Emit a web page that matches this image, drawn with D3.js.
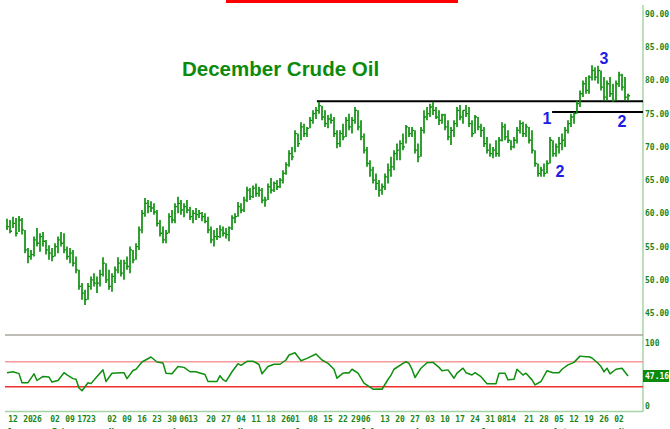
<!DOCTYPE html>
<html>
<head>
<meta charset="utf-8">
<script src="https://cdn.jsdelivr.net/npm/d3@7"></script>
<style>
  body { margin: 0; background: #fff; }
  svg { display: block; }
</style>
</head>
<body>
<svg id="chart" width="670" height="429"></svg>
<script>
// daily bars (Dec crude)
const high = [
  59.2,59.0,59.5,59.3,59.6,59.3, 57.5,54.8,54.5, 56.5,57.8,57.0,57.2,56.0,
  55.2,54.8,55.5, 56.5,57.2,57.0, 55.0,54.8,54.5,53.5, 51.5,49.5,48.5,49.5,
  50.5,51.0,50.5,51.5, 53.4, 52.5,51.5,51.0,52.0, 53.4,53.0,53.0,53.5,
  55.0,54.5,55.5,58.0, 60.5,62.3, 62.0,61.8,61.5, 60.5,59.0,58.0,57.5,
  60.0,60.5,61.5, 62.5,62.0,61.5,62.0, 61.0,60.5,60.8, 60.5,60.2,60.0,
  59.5,58.0,57.5,57.8, 58.2,58.0,57.8,58.0, 59.7,60.0, 61.7,61.5,62.5,
  64.0,63.8,64.2,64.5, 64.0,63.8, 62.5, 64.5,65.3,64.8,65.0,65.3, 66.5,67.7,
  69.5,70.0, 72.5,72.0, 73.7,73.5,73.0, 74.5,75.5, 76.0,76.8,
  76.2,75.5,74.8,75.0, 74.5,72.5, 72.5,73.5,74.5, 75.0,74.5,76.0, 75.5,74.0,
  72.0,70.0, 68.0,67.0,66.0,65.0, 64.5,66.0,67.5, 68.5,69.5,70.5, 71.0,72.0,
  73.3,73.0,73.0, 72.5,70.5, 73.0,75.5, 76.0,76.5,76.8, 76.0,75.5,75.0,
  75.0,74.0,73.0,74.0, 76.0,76.3,75.5,76.3, 76.0,74.0,74.8, 74.5,73.5,73.0,
  71.5,70.5,70.0,71.0,71.5, 73.7,73.5,72.5, 71.0,71.5,73.0, 74.0,73.8,73.5,73.0,
  72.5,69.5, 67.5,67.0,67.5,68.0, 71.5,71.0,70.5, 71.5,72.0,73.0, 74.0,75.0,75.2,
  77.0,78.5, 80.0,80.5,80.8, 82.3,82.0,82.2, 81.5,80.5,80.0, 80.5,79.5,80.0,
  81.3,81.0,80.5, 78.0
];
const low = [
  57.5,57.0,57.8,56.5,57.2,56.8, 54.0,52.5,53.0, 53.5,55.0,54.2,55.0,53.8,
  53.0,52.8,53.5, 54.0,55.0,54.0, 53.0,52.5,52.0,51.0, 48.5,47.0,46.2,47.0,
  48.5,49.0,48.0,49.0, 50.5, 49.5,48.5,48.2,49.5, 51.0,50.5,50.0,51.5,
  51.0,52.5,53.0,54.5, 57.0,59.5, 60.0,60.2,59.8, 58.0,56.5,55.5,55.5,
  57.0,58.5,58.5, 60.0,59.8,59.4,60.0, 59.0,58.5,59.0, 59.3,58.8,58.5,
  57.0,55.5,55.0,56.0, 56.3,56.5,56.2,55.8, 57.5,58.5, 59.5,60.0,60.2,
  61.7,62.0,62.3,62.5, 62.5,61.5, 61.0, 62.0,63.0,63.2,63.5,63.8, 64.5,65.8,
  67.0,68.0, 69.2,70.0, 71.0,71.5,71.5, 72.8,73.5, 74.2,75.0,
  74.0,73.0,72.8,73.5, 71.5,69.8, 70.0,71.0,71.5, 72.5,72.0,73.5, 72.5,71.0,
  69.0,67.0, 65.5,64.5,63.5,62.5, 62.8,63.5,64.5, 65.5,66.5,68.0, 68.0,69.5,
  70.5,71.5,71.5, 69.0,67.7, 68.5,72.0, 74.0,74.5,74.8, 74.2,73.3,73.5,
  72.5,71.0,70.3,71.5, 73.0,74.0,73.5,74.5, 73.0,71.5,72.0, 72.5,71.5,70.0,
  69.0,68.5,68.3,68.5,68.5, 70.8,71.0,70.6, 69.5,69.8,70.5, 72.0,71.5,71.5,70.5,
  69.0,67.0, 65.5,65.5,65.5,66.0, 67.5,68.5,68.5, 69.0,69.5,70.0, 72.0,73.0,73.5,
  75.0,76.0, 77.5,78.0,78.0, 80.0,80.0,79.5, 78.5,77.0,77.0, 77.5,76.8,77.0,
  79.0,78.5,77.0, 77.0
];
const close = [
  58.0,57.3,58.5,57.0,59.0,57.5, 54.5,53.5,53.8, 56.0,55.5,56.5,55.8,54.5,
  54.0,53.5,55.0, 56.0,55.5,54.5, 53.5,54.0,52.5,51.5, 49.0,48.0,47.0,49.0,
  50.0,49.5,49.5,50.8, 52.5, 50.0,49.0,50.5,51.5, 52.5,51.0,52.5,52.0,
  54.5,53.0,55.0,57.5, 60.0,61.5, 61.0,60.8,60.2, 58.5,57.0,56.0,57.0,
  59.5,59.0,61.0, 61.5,60.5,61.0,60.5, 59.5,60.0,59.8, 60.0,59.5,58.8,
  57.5,56.0,56.5,56.5, 57.5,57.0,56.8,57.8, 59.3,59.5, 61.0,60.5,62.0,
  63.5,62.5,63.8,63.0, 63.5,62.0, 62.0, 64.0,63.5,64.5,64.0,65.0, 66.0,67.3,
  69.0,68.5, 72.0,70.5, 73.0,72.0,72.8, 74.0,75.0, 75.5,76.2,
  74.5,73.5,74.2,74.0, 72.0,70.5, 72.0,71.5,74.0, 73.0,74.0,75.5, 73.0,71.5,
  69.5,67.5, 66.5,65.0,64.5,63.5, 64.0,65.5,66.5, 67.0,69.0,69.5, 70.5,70.0,
  73.0,72.0,72.5, 69.5,68.5, 72.5,74.5, 75.0,76.0,75.5, 74.5,74.0,74.8,
  73.0,71.5,72.5,73.5, 75.5,74.5,75.5,75.0, 73.5,72.0,74.5, 73.0,72.5,70.5,
  69.5,69.0,69.5,69.0,71.0, 73.0,71.5,71.0, 70.0,71.0,72.5, 73.5,72.0,73.0,71.0,
  69.5,67.5, 66.0,66.5,66.0,67.5, 71.0,69.0,70.0, 70.5,71.0,72.5, 73.5,74.5,75.0,
  76.5,78.0, 79.5,78.5,80.5, 81.5,80.5,81.5, 79.0,77.5,79.5, 78.0,77.0,79.5,
  80.8,79.0,77.5, 77.7
];

// RSI readings (bar index, value)
const rsiDay = [0,2,4,5,7,9,10,12,14,15,17,19,20,22,23,24,25,27,28,30,32,33,35,38,39,40,42,43,45,48,
  50,52,53,55,57,59,61,63,64,66,67,70,71,72,73,75,77,78,80,82,84,85,87,89,91,93,94,96,98,100,
  103,105,107,109,110,112,113,114,115,117,119,122,124,125,127,128,129,132,133,134,135,136,138,140,142,
  144,145,147,149,150,152,153,155,156,158,160,163,164,166,167,169,170,172,173,175,176,178,180,182,184,
  185,187,189,191,193,194,195,197,198,199,200,201,203,205,207];
const rsiVal = [52.5,54,51,36.5,36.5,50.7,40,46.5,45.5,37.5,40,52.5,49,43,42,28,23.7,36.5,35,46.5,
  57,38.5,51.7,52.5,52.5,43,56,58,69.6,77.6,69.6,68,51.7,50.7,62.3,61,54,54,52.5,49.6,
  38.5,38.5,47.7,41.3,38.5,54,66.9,64.3,70.7,71,65.6,50.7,62.3,66,66,72.8,80.8,84.5,71.7,75.4,
  82.4,72.8,67.5,58,43.7,51.7,52.5,52,58,51.7,35.7,26.1,26.5,26,41.6,48.5,58,67.5,70,67.5,
  58,44.8,59.7,68.5,69,61,55.7,57,43.7,51.7,59.7,52.5,48.8,52.5,46.1,34.7,34.7,51.7,51.7,41,
  42,58,48.8,51.7,41,33,38.4,55.7,52.5,52.5,58,65,69,79,78,78,76,67.5,62.3,54,
  59.7,50.7,58,59.7,47.16];
const rsiLast = "47.16";

// date labels on the bottom axis
const tickDay = [2,7,10,16,21,25,28,35,40,45,50,55,59,62,68,73,78,83,88,93,96,102,107,112,116.3,119.6,
  126,131,136,141,146,151,156,161,165,168,174,179,184,189,194,199,204];
const tickText = ["12","20","26","02","09","17","23","02","09","16","23","30","06","13","20","27",
  "04","11","18","26","01","08","15","22","29","06","13","20","27","03","10","17","24","31","08",
  "14","21","28","05","12","19","26","02"];
const monthDay = [0,15,34,55,77,96,118,136,158,182,204];
const monthText = ["Jan","Feb","Mar","Apr","May","Jun","Jul","Aug","Sep","Oct","Nov"];

const priceTicks = [45,50,55,60,65,70,75,80,85,90];
const rsiTicks = [0,100];
const rsiBands = [70,30];

// horizontal lines drawn on the chart: [price, start bar]
const levels = [[76.85, 103.3], [75.25, 181.7]];
// wave count labels
const waveText = ["3","1","2","2"];
const waveDay = [199, 180, 205, 184.3];
const wavePrice = [82.4, 73.4, 73.0, 65.5];

const svg = d3.select("#chart");
const green = "#0e8f0e";
const labGreen = "#1a861a";
const axisX = 643;

const n = Math.min(high.length, low.length, close.length);
const x = d3.scaleLinear().domain([0, 207]).range([7, 628]);
const y = d3.scaleLinear().domain([45, 90]).range([313, 14]);
const yr = d3.scaleLinear().domain([0, 100]).range([405.5, 343]);

// red bar at the very top
svg.append("rect").attr("x", 226).attr("y", 0).attr("width", 232).attr("height", 3).attr("fill", "#ff0000");

// frame lines
svg.append("line").attr("x1", axisX).attr("x2", axisX).attr("y1", 5).attr("y2", 412)
  .attr("stroke", "#a6d4a6").attr("stroke-width", 1.5);
svg.append("line").attr("x1", 5).attr("x2", axisX).attr("y1", 335).attr("y2", 335)
  .attr("stroke", "#aaa49c").attr("stroke-width", 1.5);
svg.append("line").attr("x1", 5).attr("x2", axisX).attr("y1", 411.5).attr("y2", 411.5)
  .attr("stroke", "#a6d4a6").attr("stroke-width", 1.5);

// title
svg.append("text").attr("x", 182).attr("y", 76)
  .style("font-family", "'Liberation Sans', Arial, sans-serif").style("font-weight", "bold")
  .style("font-size", "20.5px").attr("fill", "#0c8a0c").text("December Crude Oil");

// resistance / support lines
svg.selectAll(".level").data(levels).enter().append("line")
  .attr("x1", d => x(d[1])).attr("x2", axisX)
  .attr("y1", d => y(d[0])).attr("y2", d => y(d[0]))
  .attr("stroke", "#000").attr("stroke-width", 2);

// price bars
const bars = svg.append("g");
for (let i = 0; i < n; i++) {
  bars.append("line").attr("x1", x(i)).attr("x2", x(i))
    .attr("y1", y(high[i])).attr("y2", y(low[i]))
    .attr("stroke", green).attr("stroke-width", 1.7);
  bars.append("line").attr("x1", x(i)).attr("x2", x(i) + 2)
    .attr("y1", y(close[i])).attr("y2", y(close[i]))
    .attr("stroke", green).attr("stroke-width", 1.3);
}

// wave labels
svg.selectAll(".wave").data(waveText).enter().append("text")
  .attr("x", (d, i) => x(waveDay[i])).attr("y", (d, i) => y(wavePrice[i]))
  .attr("text-anchor", "middle")
  .style("font-family", "'Liberation Sans', Arial, sans-serif").style("font-weight", "bold")
  .style("font-size", "16px").attr("fill", "#1c1ce6").text(d => d);

// price axis labels
const monoFont = "'DejaVu Sans Mono', monospace";
svg.selectAll(".ptick").data(priceTicks).enter().append("text")
  .attr("x", 645).attr("y", d => y(d) + 3)
  .style("font-family", monoFont).style("font-weight", "bold").style("font-size", "8px")
  .attr("fill", labGreen).text(d => d3.format(".2f")(d));

// RSI panel
svg.selectAll(".band").data(rsiBands).enter().append("line")
  .attr("x1", 5).attr("x2", axisX).attr("y1", d => yr(d)).attr("y2", d => yr(d))
  .attr("stroke", (d, i) => i === 0 ? "#f59a9a" : "#f03030").attr("stroke-width", 1.3);

const m = Math.min(rsiDay.length, rsiVal.length);
const rsiPts = d3.range(m).map(i => [rsiDay[i], rsiVal[i]]);
svg.append("path").datum(rsiPts)
  .attr("d", d3.line().x(d => x(d[0])).y(d => yr(d[1])))
  .attr("fill", "none").attr("stroke", green).attr("stroke-width", 1.5)
  .attr("stroke-linejoin", "round");

svg.selectAll(".rtick").data(rsiTicks).enter().append("text")
  .attr("x", 645).attr("y", d => yr(d) + 3)
  .style("font-family", monoFont).style("font-weight", "bold").style("font-size", "8px")
  .attr("fill", labGreen).text(d => d);

svg.append("rect").attr("x", 643).attr("y", 370).attr("width", 26).attr("height", 12).attr("fill", "#0c8a0c");
svg.append("text").attr("x", 645).attr("y", 379)
  .style("font-family", monoFont).style("font-weight", "bold").style("font-size", "8px")
  .attr("fill", "#fff").text(rsiLast);

// date axis
svg.selectAll(".dtick").data(tickText).enter().append("text")
  .attr("x", (d, i) => x(tickDay[i])).attr("y", 422)
  .attr("text-anchor", "middle")
  .style("font-family", monoFont).style("font-weight", "bold").style("font-size", "8px")
  .attr("fill", labGreen).text(d => d);

// month row, mostly below the bottom edge as in the original
svg.selectAll(".mtick").data(monthText).enter().append("text")
  .attr("x", (d, i) => x(monthDay[i])).attr("y", 435)
  .style("font-family", monoFont).style("font-weight", "bold").style("font-size", "8px")
  .attr("fill", labGreen).text(d => d);
</script>
</body>
</html>
